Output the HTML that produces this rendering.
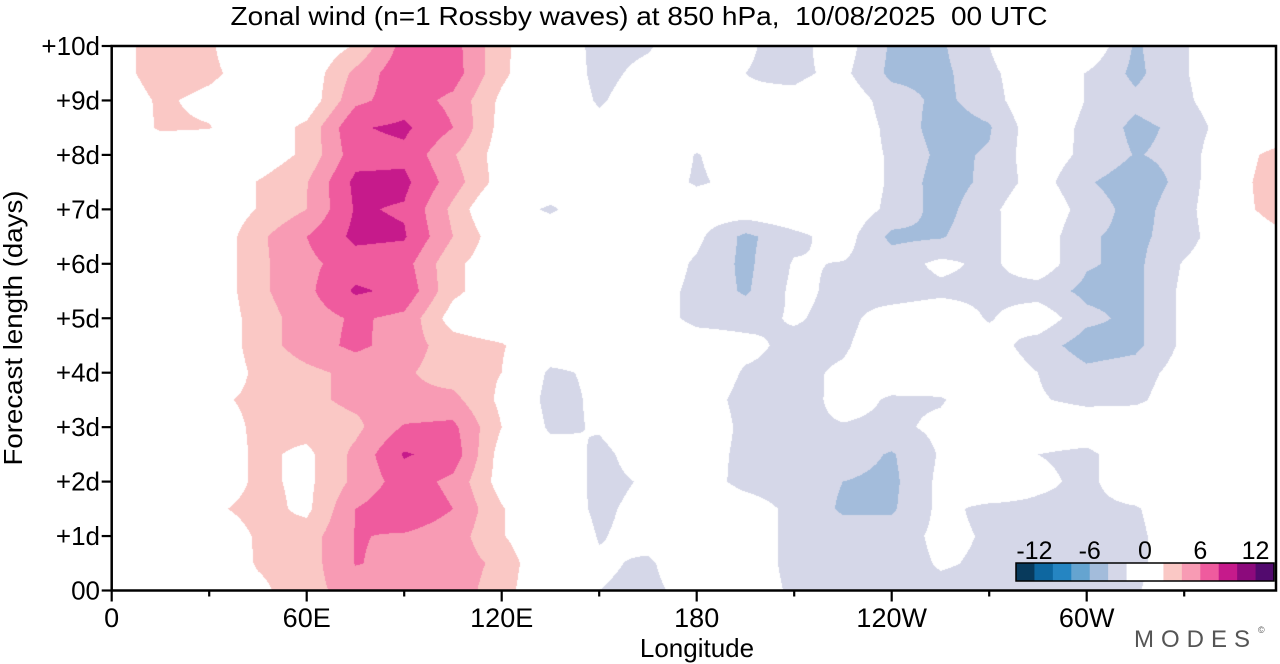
<!DOCTYPE html>
<html><head><meta charset="utf-8">
<style>
html,body{margin:0;padding:0;background:#fff;}
#wrap{position:relative;width:1280px;height:664px;overflow:hidden;background:#fff;font-family:"Liberation Sans",Arial,sans-serif;}
#heat{position:absolute;left:0;top:0;}
#ov{position:absolute;left:0;top:0;}
</style></head>
<body>
<div id="wrap">
<canvas id="heat" width="1280" height="664"></canvas>
<svg id="ov" width="1280" height="664" xmlns="http://www.w3.org/2000/svg">
  <text x="639" y="25" font-size="26" text-anchor="middle" textLength="817" lengthAdjust="spacingAndGlyphs" xml:space="preserve">Zonal wind (n=1 Rossby waves) at 850 hPa,  10/08/2025  00 UTC</text>
  <text transform="translate(22,328) rotate(-90)" font-size="26" text-anchor="middle" textLength="275" lengthAdjust="spacingAndGlyphs">Forecast length (days)</text>
  <text x="697" y="657" font-size="26" text-anchor="middle">Longitude</text>
  <g id="axes"></g>
  <g id="cbar"></g>
  <text x="1134" y="647" font-size="24" fill="#555" letter-spacing="7">MODES</text>
  <text x="1258" y="633" font-size="9" fill="#555">©</text>
</svg>
</div>
<script>
// ---- data ----
const lons = [0,15,30,45,60,75,90,105,120,135,150,165,180,195,210,225,240,255,270,285,300,315,330,345,360];
const days = [0,0.5,1,1.5,2,2.5,3,3.5,4,4.5,5,5.5,6,6.5,7,7.5,8,8.5,9,9.5,10];
const u_d0   = [0,0,0,1.5,3.2,5,5.5,5,3,-0.5,-2,-2.3,-1.5,-1,-2.3,-3,-3,-2.5,-2.5,-2.5,-2.5,-2.2,-0.5,0,0];
const u_d0_5 = [0,0,0,2.2,3,6.1,5.5,5,3.5,-0.5,-1.8,-2.2,-1,-1,-2.5,-3,-3,-1.8,-2.3,-2.5,-2.5,-2.5,-0.5,0,0];
const u_d1   = [0,0,0,2.3,3,6.1,5.8,5,2.2,-0.5,-2.1,-1.5,-0.5,-1,-2.5,-3,-3,-1.5,-2.2,-2.5,-2.5,-2.5,-0.5,0,0];
const u_d1_5 = [0,0,1.5,2.8,1.5,6,7.5,6,2.2,-1,-2.3,-1.5,-0.5,-1,-2.5,-4.3,-4.3,-1.5,-2.5,-2.5,-2.5,-2.2,-0.5,0,0];
const u_d2   = [0,0,0,2.5,1.5,4.5,7,5.5,1,-0.5,-2.5,-1.8,-1,-2.6,-3,-4,-4.5,-1.5,0,-1.5,-2.5,-0.5,0,0,0];
const u_d2_5 = [0,0,0,2.5,1.5,4.5,8.2,7.2,1,-0.5,-2.5,-1,-1,-2.5,-3,-3,-4.2,-1.8,-0.5,-2,-2.5,-0.5,0,0,0];
const u_d3   = [0,0,0.5,2.5,2.8,3.5,6.2,6.5,2,-2.5,-1.8,-0.5,-0.5,-2.5,-2.5,-2.2,-2.5,-1.5,0,-0.5,-0.5,0,0,0,0];
const u_d3_5 = [0,1,1.5,2.5,3.5,4.5,4.5,4.6,1.5,-3,-1.5,-0.5,-1,-2.6,-3.5,-1,-2.3,-2.2,-0.5,-1.8,-2.5,-2.5,-0.5,0,0];
const u_d4   = [0,0,0,2.5,3.5,4.5,4.3,3,2,-2.5,-1.5,-0.5,-0.5,-2.2,-2.5,-1.7,-0.5,-0.5,-0.5,-2,-3.5,-3,-1,0,0];
const u_d4_5 = [0,0,0,3,5,6.5,5,3,2.2,0,-0.5,-0.5,-1,-1.5,-2.5,-2.3,-0.5,-1,-1,-3,-5,-4.5,-1.5,0,0];
const u_d5   = [0,0,0,3,5,6.3,5.5,1,0,-0.5,-1,-1,-2.5,-2.6,-1.8,-2.6,-1,-0.5,-2.2,-0.5,-3.5,-4.5,-1.5,0,0];
const u_d5_5 = [0,0,0,3.5,5.5,8.3,7.5,2.5,0.5,-0.5,-1,-1,-2.5,-4.3,-1.5,-2.5,-3,-2.5,-2.5,-3,-4.5,-4.5,-1.5,0,0];
const u_d6   = [0,0,0,3.5,5.5,7,6.8,2.5,0.5,-0.5,-1,-0.5,-2.3,-4.5,-1.8,-2.1,-3,-1.5,-2.5,-0.5,-3.8,-4.5,-1.8,0,1.2];
const u_d6_5 = [0,0,0,3.5,6,8.5,8.2,4,0.5,-0.5,-1,-0.5,-1.5,-4.5,-2.6,-1,-4.5,-4.2,-2.5,-0.5,-3.8,-4.5,-3,0,1.5];
const u_d7   = [0,0,0,2.1,4,8.2,7.8,3.5,-1,-2.3,-0.5,0,-1,-0.5,0,-0.5,-2.5,-4.8,-2.6,0,-3,-4.7,-3,1,3.2];
const u_d7_5 = [0,0,0,2.1,3.9,8.5,8.5,5,1,-0.5,-1,-1,-2.2,-1.5,0,-0.3,-2.3,-5,-3.5,-1,-3.8,-5,-3.5,1,3.5];
const u_d8   = [0,0,0,0.5,2.5,7.2,7.5,4.2,1,-0.5,-1,-0.5,-2.1,-1,-0.5,-1,-2.2,-4.5,-3.8,-0.5,-2.6,-4.1,-3.5,0.8,3];
const u_d8_5 = [0,2.3,2.1,0.5,2.5,7.8,8.4,6,1.2,-0.5,-1.5,-0.5,-0.5,-1.8,-0.5,-0.5,-2.5,-5,-4.2,-0.5,-2.5,-4.5,-3.5,-0.5,0];
const u_d9   = [0.5,2.3,1.5,0.5,0.5,5.5,7,5.5,1.5,-0.5,-2.2,-1,0,-1.8,-1.5,-0.5,-3,-4.5,-3,0,-2.1,-3.5,-2.5,0,0];
const u_d9_5 = [1,3,2.4,1,0.5,4.5,7.5,7,2.5,-0.5,-2.5,-1.5,-0.5,-2,-2.4,-1.5,-4.5,-4.5,-2.6,0,-2.1,-4.5,-2.2,0,0.5];
const u_d10  = [1,3,2.3,0,0,2.2,6.8,6.8,2.6,-0.5,-2.6,-2.2,-0.5,-1.8,-2.6,-1,-4.3,-4.3,-2,1.5,0,-4.3,-2.2,0,1];
const grid = [u_d0,u_d0_5,u_d1,u_d1_5,u_d2,u_d2_5,u_d3,u_d3_5,u_d4,u_d4_5,u_d5,u_d5_5,u_d6,u_d6_5,u_d7,u_d7_5,u_d8,u_d8_5,u_d9,u_d9_5,u_d10];
const levels = [-14,-12,-10,-8,-6,-4,-2,0,2,4,6,8,10,12,14];
const cbarLabels = ["-12","-6","0","6","12"];
const cbarLabelVals = [-12,-6,0,6,12];
const xTickVals = [0,60,120,180,240,300];
const xTickLabels = ["0","60E","120E","180","120W","60W"];
const yTickVals = [0,1,2,3,4,5,6,7,8,9,10];
const yTickLabels = ["00","+1d","+2d","+3d","+4d","+5d","+6d","+7d","+8d","+9d","+10d"];

const colors = ["#083a5c","#0e67a0","#2585c2","#65a4d0","#a3bcdb","#d5d7e8","#ffffff","#ffffff","#fac8c5","#f89bb4","#ef5b9e","#c61a8b","#8c0a7c","#520a6e"];

// ---- axes ----
const X0=111.7, PX_DEG=3.25, XR=1276, YB=590.5, YT=46, PX_DAY=(590.5-46)/10;
const xS = l => X0 + l*PX_DEG;
const yS = d => YB - d*PX_DAY;
function hex(c){return [parseInt(c.substr(1,2),16),parseInt(c.substr(3,2),16),parseInt(c.substr(5,2),16)];}
const rgb = colors.map(hex);

function valueAt(lon,day){
  let fi=(lon-lons[0])/(lons[1]-lons[0]); let fj=(day-days[0])/(days[1]-days[0]);
  fi=Math.max(0,Math.min(lons.length-1.0001,fi)); fj=Math.max(0,Math.min(days.length-1.0001,fj));
  const i=Math.floor(fi), j=Math.floor(fj), a=fi-i, b=fj-j;
  const r0=grid[j], r1=grid[j+1];
  return (r0[i]*(1-a)+r0[i+1]*a)*(1-b)+(r1[i]*(1-a)+r1[i+1]*a)*b;
}

// ---- heatmap ----
const cv=document.getElementById('heat'); const ctx=cv.getContext('2d');
const x1=Math.round(X0), x2=Math.round(XR), y1=Math.round(YT), y2=Math.round(YB);
const img=ctx.createImageData(x2-x1,y2-y1);
for(let py=y1;py<y2;py++){
  const day=(YB-(py+0.5))/PX_DAY;
  for(let px=x1;px<x2;px++){
    const lon=((px+0.5)-X0)/PX_DEG;
    const v=valueAt(lon,day);
    let i=Math.floor((v-levels[0])/2);if(i<0)i=0;if(i>13)i=13;
    const c=rgb[i]; const k=((py-y1)*(x2-x1)+(px-x1))*4;
    img.data[k]=c[0];img.data[k+1]=c[1];img.data[k+2]=c[2];img.data[k+3]=255;
  }
}
ctx.putImageData(img,x1,y1);

const NS="http://www.w3.org/2000/svg";
function mk(tag,attrs,parent){const e=document.createElementNS(NS,tag);for(const k in attrs)e.setAttribute(k,attrs[k]);parent.appendChild(e);return e;}
const ax=document.getElementById('axes');
const frame=mk('rect',{x:X0,y:YT,width:XR-X0,height:YB-YT,fill:'none',stroke:'#000','stroke-width':2.5},ax);


for(let l=0;l<=330;l+=30){
  const major=xTickVals.indexOf(l)>=0;
  const t=mk('line',{x1:xS(l),x2:xS(l),y1:YB,y2:YB+(major?11:6),stroke:'#000','stroke-width':2.2},ax);
  
  
}
xTickVals.forEach((l,i)=>{
  const t=mk('text',{x:xS(l),y:627,'font-size':27,'text-anchor':'middle'},ax);
  t.textContent=xTickLabels[i];
  
  
});
yTickVals.forEach((d,i)=>{
  const t=mk('line',{x1:X0-10,x2:X0,y1:yS(d),y2:yS(d),stroke:'#000','stroke-width':2.2},ax);
  
  
  const lb=mk('text',{x:100,y:yS(d)+9,'font-size':26,'text-anchor':'end'},ax);
  lb.textContent=yTickLabels[i];
  
  
});

// ---- colorbar ----
const cb=document.getElementById('cbar');
const CBX=1016, CBW=258, CBY=563, CBH=18;
const cbS = v => CBX + (v-levels[0])/(levels[levels.length-1]-levels[0])*CBW;
for(let i=0;i<colors.length;i++){
  const r=mk('rect',{x:cbS(levels[i]),y:CBY,width:cbS(levels[i+1])-cbS(levels[i])+0.5,height:CBH,fill:colors[i]},cb);
  
  
}
const cbf=mk('rect',{x:CBX,y:CBY,width:CBW,height:CBH,fill:'none',stroke:'#000','stroke-width':1.5},cb);


cbarLabelVals.forEach((v,i)=>{
  const t=mk('text',{x:cbS(v),y:559,'font-size':25,'text-anchor':'middle'},cb);
  t.textContent=cbarLabels[i];
  
  
});
</script>
</body></html>
